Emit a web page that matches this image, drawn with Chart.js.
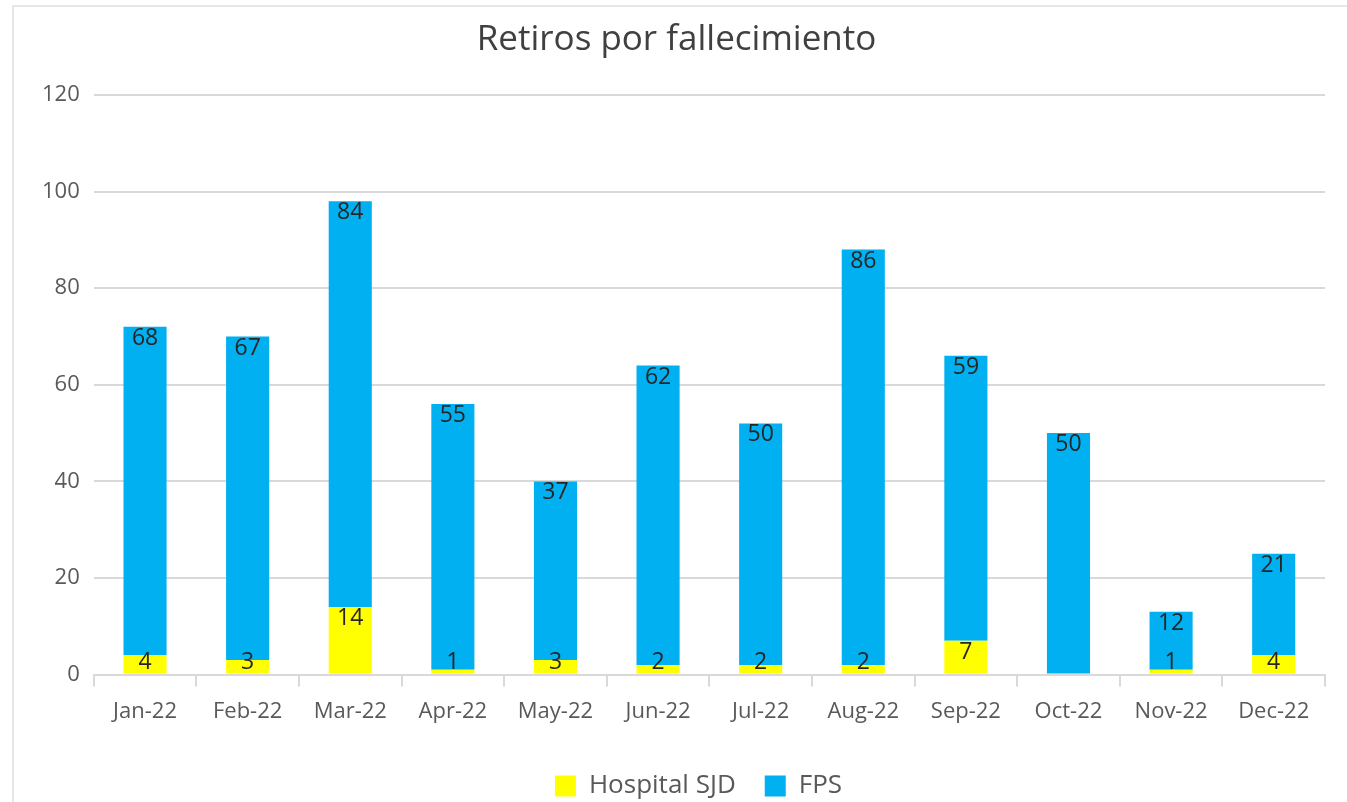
<!DOCTYPE html>
<html lang="en">
<head>
  <meta charset="UTF-8">
  <title>Retiros por fallecimiento</title>
  <script src="https://cdn.jsdelivr.net/npm/chart.js@4.4.1/dist/chart.umd.min.js"></script>
  <style>
    html, body { margin: 0; padding: 0; background: #fff; }
    .frame { position: absolute; left: 12px; top: 5px; width: 1335px; height: 797px;
             border-left: 2px solid #e6e6e6; border-top: 2px solid #e6e6e6; }
    .chart-container { position: relative; width: 1347px; height: 802px; }
  </style>
</head>
<body>
<div class="frame"></div>
<div class="chart-container">
  <canvas id="chart"></canvas>
</div>

<script>
  const months = ['Jan-22', 'Feb-22', 'Mar-22', 'Apr-22', 'May-22', 'Jun-22',
                  'Jul-22', 'Aug-22', 'Sep-22', 'Oct-22', 'Nov-22', 'Dec-22'];
  const hospitalSJD = [4, 3, 14, 1, 3, 2, 2, 2, 7, 0, 1, 4];
  const fps = [68, 67, 84, 55, 37, 62, 50, 86, 59, 50, 12, 21];

  const textColor = '#595959';
  const fontFamily = "'Open Sans', 'Liberation Sans', sans-serif";

  // value near the top inside each segment, pushed up when the segment is too short
  const barLabels = {
    id: 'barLabels',
    afterDatasetsDraw(chart) {
      const ctx = chart.ctx;
      const h = 23;
      ctx.save();
      ctx.font = '23px ' + fontFamily;
      ctx.fillStyle = '#262626';
      ctx.textAlign = 'center';
      ctx.textBaseline = 'top';
      chart.data.datasets.forEach((ds, i) => {
        const meta = chart.getDatasetMeta(i);
        meta.data.forEach((bar, j) => {
          const v = ds.data[j];
          if (!v) return;
          let y = bar.y;
          if (y + h > bar.base) y = bar.base - h;
          ctx.fillText(String(v), bar.x, y);
        });
      });
      ctx.restore();
    }
  };

  // nudge the legend a bit right and down, like the original
  const legendShift = {
    id: 'legendShift',
    afterLayout(chart) {
      const lg = chart.legend;
      if (!lg) return;
      lg.left += 22; lg.right += 22;
      lg.top += 7; lg.bottom += 7;
    }
  };

  const ctx = document.getElementById('chart').getContext('2d');
  const myChart = new Chart(ctx, {
    type: 'bar',
    data: {
      labels: months,
      datasets: [
        {
          label: 'Hospital SJD',
          data: hospitalSJD,
          backgroundColor: '#FFFF00',
          categoryPercentage: 1,
          barPercentage: 0.42
        },
        {
          label: 'FPS',
          data: fps,
          backgroundColor: '#00B0F0',
          categoryPercentage: 1,
          barPercentage: 0.42
        }
      ]
    },
    options: {
      responsive: true,
      maintainAspectRatio: false,
      animation: false,
      layout: { padding: { left: 28, right: 22, top: 8, bottom: 0 } },
      plugins: {
        title: {
          display: true,
          text: 'Retiros por fallecimiento',
          color: '#404040',
          font: { family: fontFamily, size: 35, weight: 'normal' },
          padding: { top: 11, bottom: 34 }
        },
        legend: {
          position: 'bottom',
          labels: {
            color: textColor,
            font: { family: fontFamily, size: 26 },
            boxWidth: 21,
            boxHeight: 21,
            padding: 29
          }
        },
        tooltip: { enabled: false }
      },
      scales: {
        x: {
          stacked: true,
          grid: {
            offset: true,
            drawOnChartArea: false,
            drawTicks: true,
            tickLength: 12,
            color: '#d9d9d9',
            lineWidth: 2
          },
          border: { display: true, color: '#d9d9d9', width: 2 },
          ticks: { color: textColor, font: { family: fontFamily, size: 22 }, padding: 12 }
        },
        y: {
          stacked: true,
          min: 0,
          max: 120,
          ticks: { stepSize: 20, color: textColor, font: { family: fontFamily, size: 22 }, padding: 14 },
          grid: { color: '#d9d9d9', lineWidth: 2, drawTicks: false },
          border: { display: false }
        }
      }
    },
    plugins: [barLabels, legendShift]
  });
</script>
</body>
</html>
